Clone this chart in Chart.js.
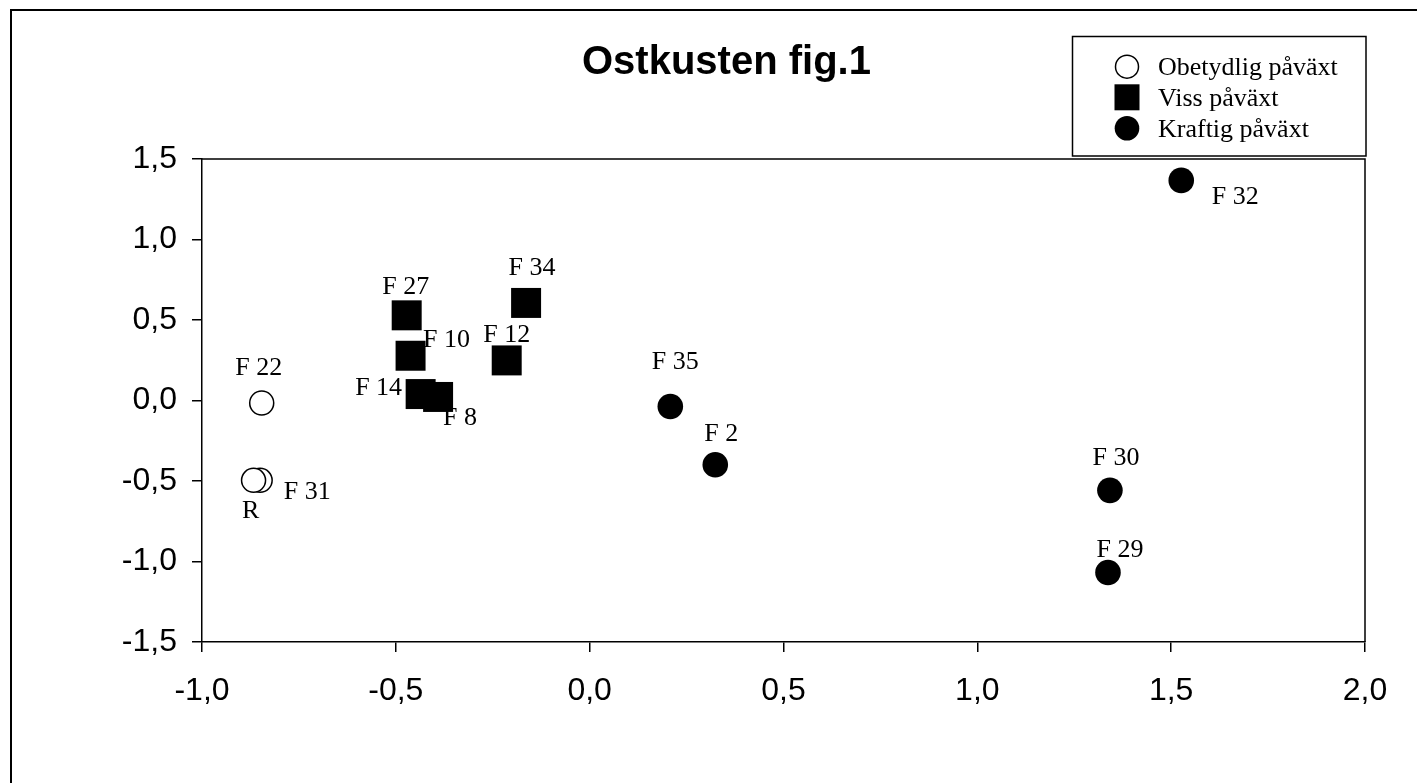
<!DOCTYPE html>
<html><head><meta charset="utf-8">
<script src="https://cdn.jsdelivr.net/npm/chart.js@4"></script>
<style>html,body{margin:0;padding:0;background:#fff;overflow:hidden}#wrap{position:relative;width:1417px;height:783px}</style>
</head><body><div id="wrap"><canvas id="c" width="1417" height="783"></canvas></div>
<script>
// ---- data ----
const titleText = 'Ostkusten fig.1';
const seriesNames = ['Obetydlig påväxt', 'Viss påväxt', 'Kraftig påväxt'];

const obetydligLabels = ['F 22', 'F 31', 'R'];
const obetydligX = [-0.846, -0.850, -0.867];
const obetydligY = [-0.016, -0.496, -0.496];

const vissLabels = ['F 27', 'F 10', 'F 14', 'F 8', 'F 12', 'F 34'];
const vissX = [-0.472, -0.462, -0.436, -0.391, -0.214, -0.164];
const vissY = [0.529, 0.278, 0.040, 0.022, 0.249, 0.606];

const kraftigLabels = ['F 35', 'F 2', 'F 30', 'F 29', 'F 32'];
const kraftigX = [0.208, 0.324, 1.342, 1.337, 1.526];
const kraftigY = [-0.037, -0.399, -0.558, -1.068, 1.367];

const xTickValues = [-1.0, -0.5, 0.0, 0.5, 1.0, 1.5, 2.0];
const xTickLabels = ['-1,0', '-0,5', '0,0', '0,5', '1,0', '1,5', '2,0'];
const yTickValues = [-1.5, -1.0, -0.5, 0.0, 0.5, 1.0, 1.5];
const yTickLabels = ['-1,5', '-1,0', '-0,5', '0,0', '0,5', '1,0', '1,5'];

// ---- label placement (pixel offsets from each marker: [dx of text centre, dy of baseline]) ----
const obetydligOffsets = [[-3, -28], [47, 19], [-3, 38]];
const vissOffsets = [[-1, -21], [36, -9], [-42, 1], [22, 28], [0, -18], [6, -28]];
const kraftigOffsets = [[5, -37], [6, -24], [6, -25], [12, -15], [54, 24]];

function pts(xs, ys) { return xs.map((x, i) => ({ x: x, y: ys[i] })); }
function tickLabel(vals, labels, v) {
  const i = vals.findIndex(t => Math.abs(t - v) < 1e-9);
  return i >= 0 ? labels[i] : '';
}

const datasets = [
  { label: seriesNames[0], data: pts(obetydligX, obetydligY), pointLabels: obetydligLabels, labelOffsets: obetydligOffsets,
    pointStyle: 'circle', pointRadius: 12, backgroundColor: '#ffffff', borderColor: '#000000', borderWidth: 1.5,
    legendKind: 'openCircle' },
  { label: seriesNames[1], data: pts(vissX, vissY), pointLabels: vissLabels, labelOffsets: vissOffsets,
    pointStyle: 'rect', pointRadius: 21.2, backgroundColor: '#000000', borderColor: '#000000', borderWidth: 0,
    legendKind: 'square' },
  { label: seriesNames[2], data: pts(kraftigX, kraftigY), pointLabels: kraftigLabels, labelOffsets: kraftigOffsets,
    pointStyle: 'circle', pointRadius: 12.8, backgroundColor: '#000000', borderColor: '#000000', borderWidth: 0,
    legendKind: 'filledCircle' }
];

const decorPlugin = {
  id: 'decor',
  afterDraw(chart) {
    const ctx = chart.ctx;
    const ca = chart.chartArea;
    ctx.save();
    // outer frame (left and top visible)
    ctx.strokeStyle = '#000'; ctx.lineWidth = 2;
    ctx.beginPath();
    ctx.moveTo(11, 783); ctx.lineTo(11, 10); ctx.lineTo(1417, 10);
    ctx.stroke();
    // plot area top & right
    ctx.lineWidth = 1.5;
    ctx.beginPath();
    ctx.moveTo(ca.left, ca.top); ctx.lineTo(ca.right, ca.top); ctx.lineTo(ca.right, ca.bottom);
    ctx.stroke();
    // title
    ctx.fillStyle = '#000';
    ctx.font = 'bold 40px "Liberation Sans", Arial, sans-serif';
    ctx.textAlign = 'left'; ctx.textBaseline = 'alphabetic';
    ctx.fillText(titleText, 582, 74);
    // point labels
    ctx.font = '26px "Liberation Serif", "Times New Roman", serif';
    ctx.textAlign = 'center';
    chart.data.datasets.forEach((ds, di) => {
      const meta = chart.getDatasetMeta(di);
      meta.data.forEach((el, i) => {
        const off = ds.labelOffsets[i];
        ctx.fillText(ds.pointLabels[i], el.x + off[0], el.y + off[1]);
      });
    });
    // legend
    const box = { x: 1072, y: 36, w: 293.5, h: 119.5 };
    ctx.lineWidth = 1.5;
    ctx.strokeRect(box.x + 0.5, box.y + 0.5, box.w, box.h);
    const rowY = [66.7, 97.3, 128.3];
    const markX = 1127, textX = 1158;
    ctx.textAlign = 'left';
    chart.data.datasets.forEach((ds, di) => {
      const cy = rowY[di];
      ctx.beginPath();
      if (ds.legendKind === 'openCircle') {
        ctx.arc(markX, cy, 11.5, 0, Math.PI * 2);
        ctx.fillStyle = '#fff'; ctx.fill();
        ctx.lineWidth = 1.5; ctx.strokeStyle = '#000'; ctx.stroke();
      } else if (ds.legendKind === 'square') {
        ctx.fillStyle = '#000'; ctx.fillRect(markX - 12.5, cy - 13, 25, 26);
      } else {
        ctx.arc(markX, cy, 12.3, 0, Math.PI * 2);
        ctx.fillStyle = '#000'; ctx.fill();
      }
      ctx.fillStyle = '#000';
      ctx.font = '26px "Liberation Serif", "Times New Roman", serif';
      ctx.fillText(ds.label, textX, cy + 8.5);
    });
    ctx.restore();
  }
};

const axisCommon = {
  grid: { drawOnChartArea: false, drawTicks: true, tickLength: 10, color: '#000', lineWidth: 1.5 },
  border: { display: true, color: '#000', width: 1.5 },
};

new Chart(document.getElementById('c'), {
  type: 'scatter',
  data: { datasets: datasets },
  options: {
    responsive: false,
    animation: false,
    devicePixelRatio: 1,
    events: [],
    layout: { padding: { top: 159, right: 52, left: 0, bottom: 0 } },
    plugins: { legend: { display: false }, title: { display: false }, tooltip: { enabled: false } },
    scales: {
      x: Object.assign({}, axisCommon, {
        type: 'linear', min: -1, max: 2,
        afterBuildTicks: s => { s.ticks = xTickValues.map(v => ({ value: v })); },
        afterFit: s => { s.height = 141; },
        ticks: { color: '#000', padding: 20, maxRotation: 0, autoSkip: false,
          font: { family: '"Liberation Sans", Arial, sans-serif', size: 32 },
          callback: v => tickLabel(xTickValues, xTickLabels, v) }
      }),
      y: Object.assign({}, axisCommon, {
        type: 'linear', min: -1.5, max: 1.5,
        afterBuildTicks: s => { s.ticks = yTickValues.map(v => ({ value: v })); },
        afterFit: s => { s.width = 202; },
        ticks: { color: '#000', padding: 15, autoSkip: false,
          font: { family: '"Liberation Sans", Arial, sans-serif', size: 32 },
          callback: v => tickLabel(yTickValues, yTickLabels, v) }
      })
    }
  },
  plugins: [decorPlugin]
});
</script></body></html>
